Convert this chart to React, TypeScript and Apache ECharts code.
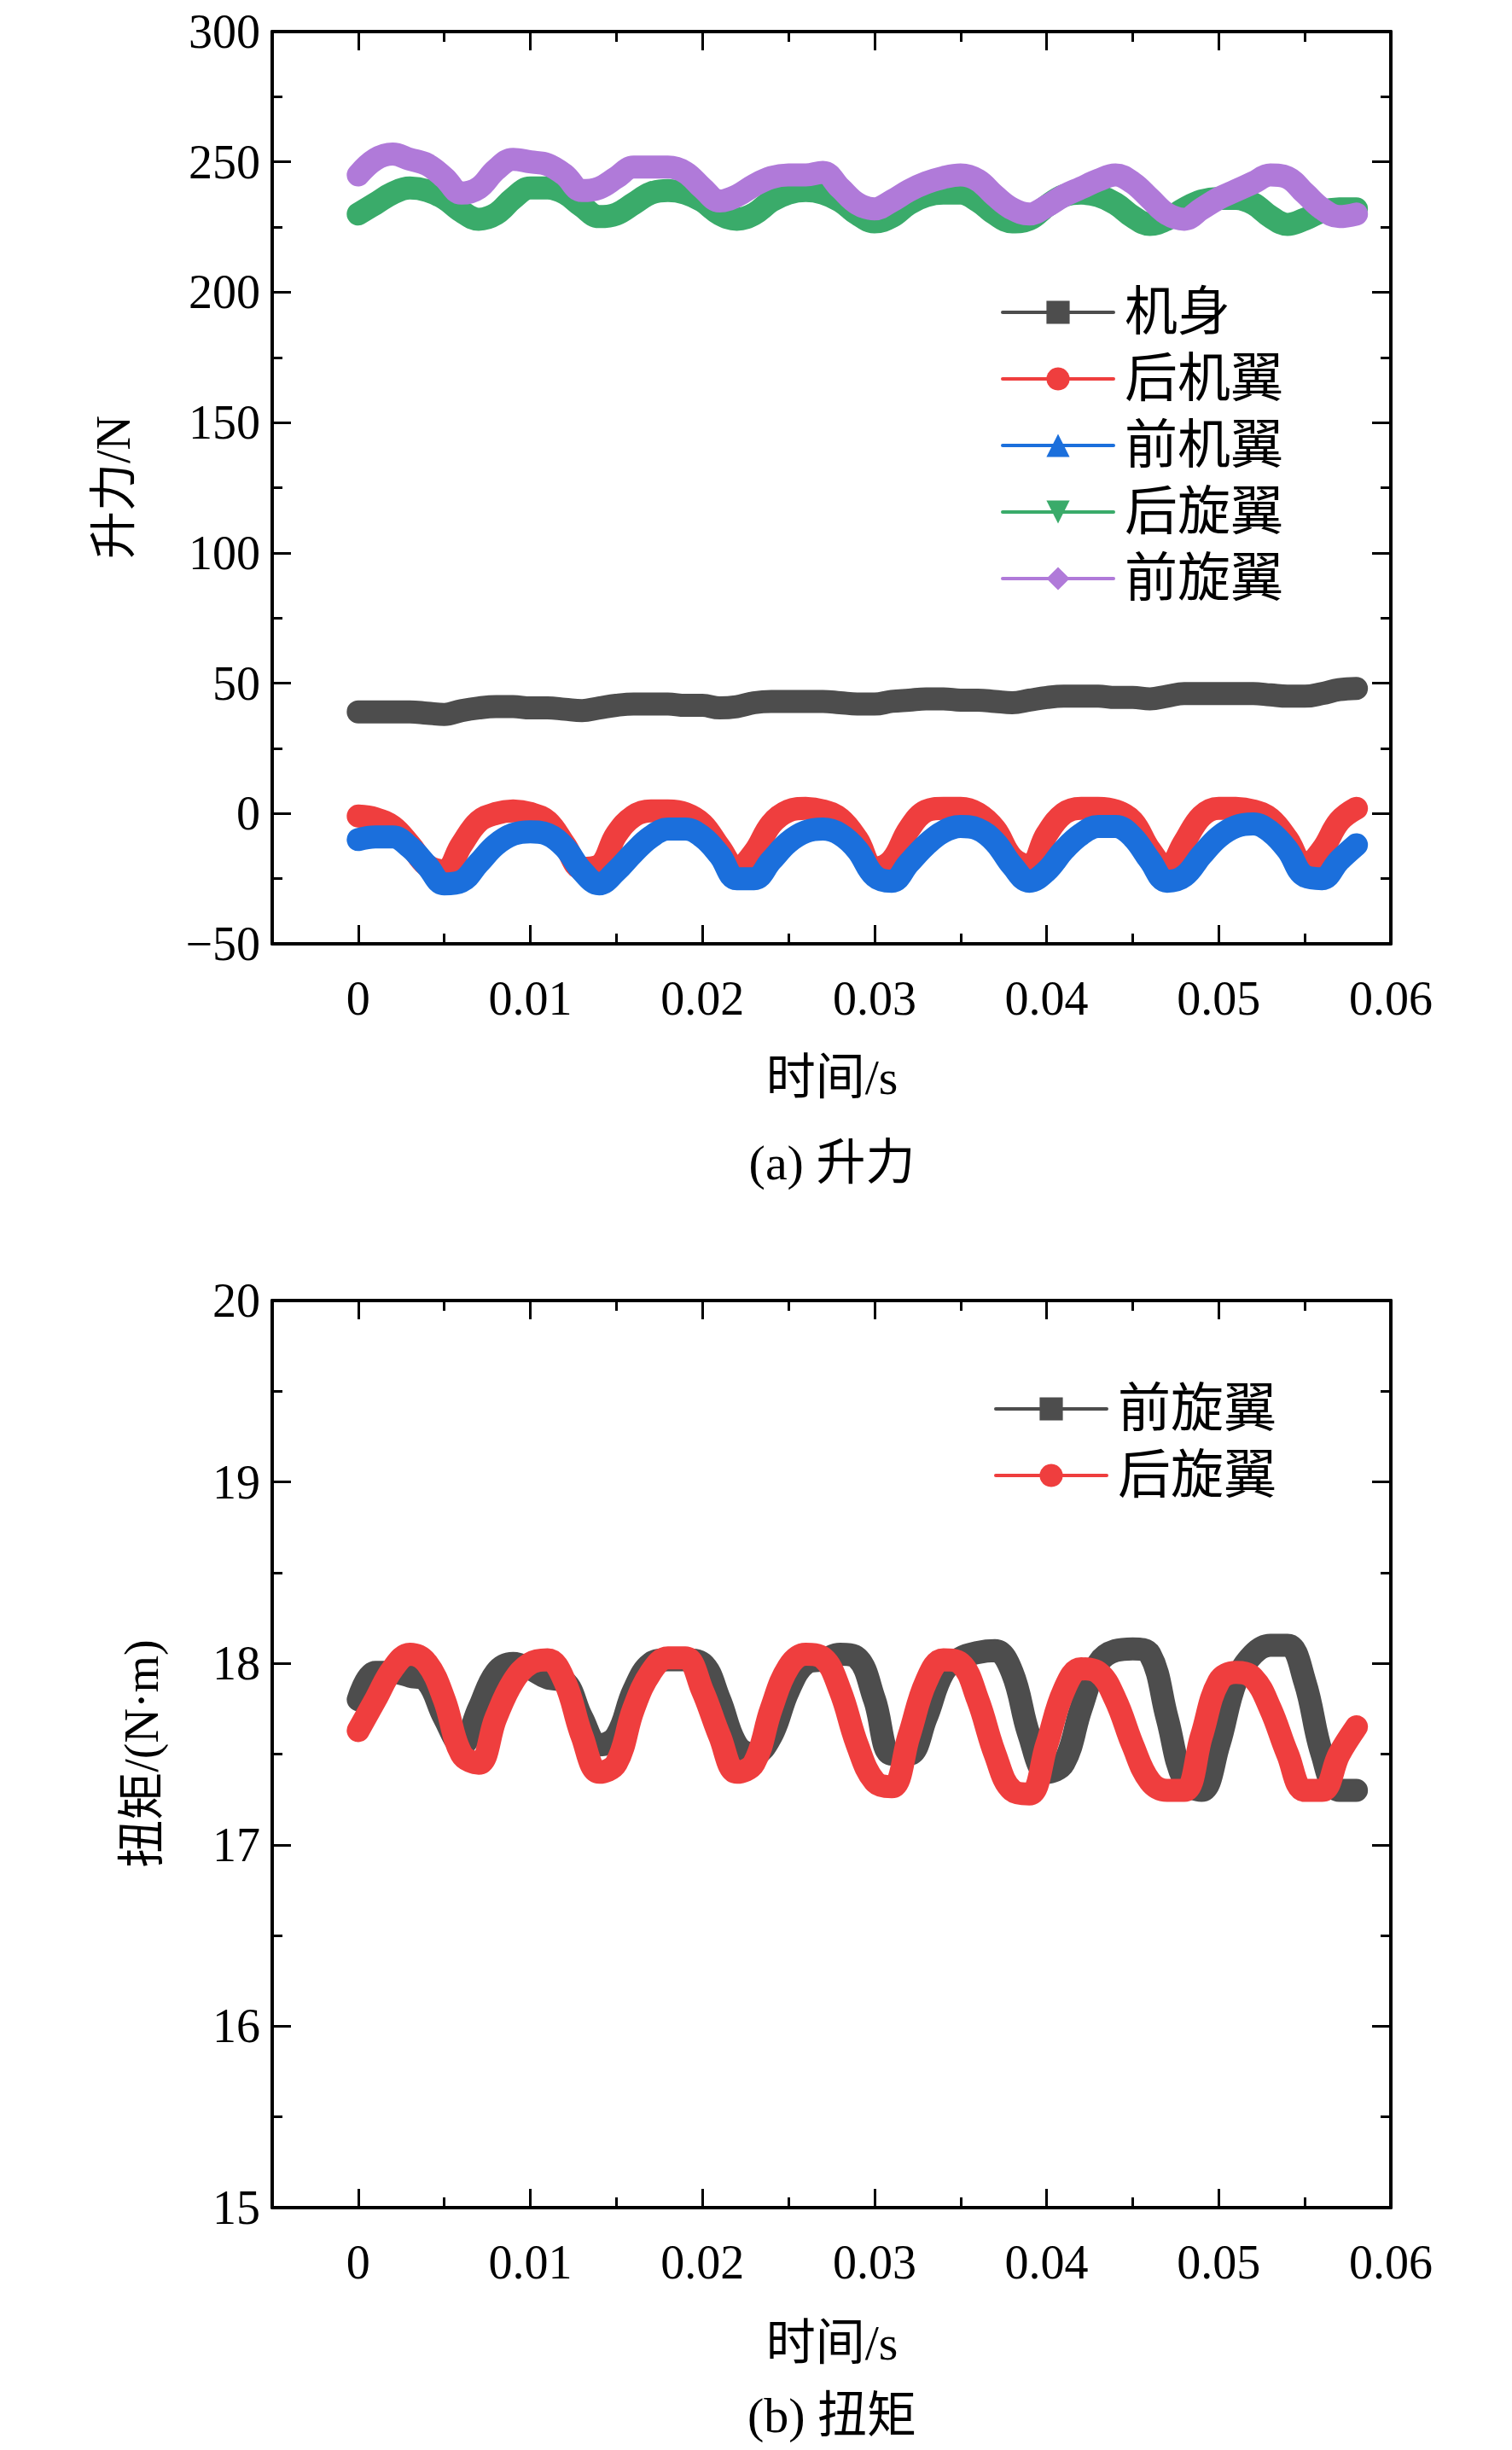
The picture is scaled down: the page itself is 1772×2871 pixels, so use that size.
import { useEffect, useRef } from "react";
import * as echarts from "echarts";

const X = Array.from({ length: 59 }, (_, i) => +(i * 0.001).toFixed(3));

const bodyLift = [39,39,39,39,38.5,38,39.5,40.5,41,41,40.5,40.5,40,39.5,40.5,41.5,42,42,42,41.5,41.5,40.5,41,42.5,43,43,43,43,42.5,42,42,43,43.5,44,44,43.5,43.5,43,42.5,43.5,44.5,45,45,45,44.5,44.5,44,45,46,46,46,46,46,45.5,45,45,46,47.5,48];
const rearWingLift = [-1,-2,-5,-12,-20,-22,-12,-3,0,1,0,-3,-12,-21,-20,-8,-1,1,1,0,-4,-13,-21,-15,-4,1,2,1,-2,-10,-21,-18,-6,1,2,2,0,-6,-17,-20,-8,0,2,2,1,-3,-14,-21,-11,-1,2,2,1,-2,-10,-20,-14,-3,2];
const frontWingLift = [-10,-9,-9,-13,-20,-27,-26,-19,-12,-8,-7,-8,-13,-22,-27,-22,-15,-9,-6,-6,-9,-16,-25,-25,-18,-11,-7,-6,-8,-14,-24,-26,-19,-12,-7,-5,-6,-11,-20,-26,-22,-14,-8,-5,-5,-9,-18,-26,-24,-16,-9,-5,-4,-7,-14,-24,-25,-18,-12];
const rearRotorLift = [230,234,238,240,239,236,231,228,230,236,240,240,238,233,229,230,234,238,239,238,235,230,228,230,235,238,239,238,235,230,227,229,234,237,238,238,235,230,227,228,233,237,238,237,234,229,226,228,232,235,236,236,234,229,226,228,231,232,232];
const frontRotorLift = [245,251,253,251,249,244,238,240,247,251,250,249,245,239,240,244,248,248,248,246,240,235,237,241,244,245,245,246,240,234,232,235,239,242,244,245,243,237,232,230,233,237,240,243,245,242,236,230,228,232,236,239,242,245,244,238,232,229,230];

const frontRotorTorque = [17.8,17.95,17.95,17.93,17.9,17.7,17.55,17.75,17.95,18.0,17.97,17.92,17.9,17.7,17.55,17.6,17.85,18.0,18.02,18.02,18.0,17.8,17.55,17.5,17.6,17.85,18.0,18.02,18.05,18.03,17.8,17.5,17.5,17.7,17.95,18.03,18.06,18.07,17.95,17.6,17.4,17.45,17.75,18.0,18.07,18.08,18.05,17.7,17.35,17.3,17.55,17.9,18.05,18.1,18.1,17.9,17.5,17.3,17.3];
const rearRotorTorque = [17.63,17.8,17.97,18.05,18.0,17.8,17.5,17.45,17.7,17.9,18.0,18.02,17.9,17.6,17.4,17.45,17.75,17.95,18.03,18.03,17.85,17.6,17.4,17.45,17.75,17.98,18.05,18.03,17.85,17.55,17.35,17.32,17.6,17.9,18.02,18.0,17.8,17.5,17.3,17.28,17.55,17.85,17.97,17.95,17.8,17.55,17.35,17.3,17.3,17.6,17.9,17.95,17.92,17.75,17.5,17.3,17.3,17.5,17.65];

const xMajor = [0, 0.01, 0.02, 0.03, 0.04, 0.05, 0.06];
const xMinor = [-0.005, 0.005, 0.015, 0.025, 0.035, 0.045, 0.055];

const FONT = "'Liberation Serif', 'Noto Sans CJK SC', serif";
const C = { black: "#4d4d4d", red: "#ef3e3e", blue: "#1b6fdc", green: "#3aab6a", purple: "#b07ad9" };

const W = 1772;
const H = 2871;
const L = 319;
const R = 1630;
const grids = [
  { top: 37, height: 1069 },
  { top: 1524, height: 1063 },
];

function xAxes(gi: number) {
  const base = { type: "value" as const, gridIndex: gi, min: -0.005, max: 0.06, splitLine: { show: false } };
  const lineStyle = { color: "#000", width: 4 };
  const tick = (len: number, vals: number[]) => ({ inside: true, length: len, customValues: vals, lineStyle: { width: 3, color: "#000" } });
  return [
    {
      ...base, position: "bottom" as const,
      axisLine: { onZero: false, lineStyle },
      axisTick: tick(22, xMajor),
      axisLabel: { customValues: xMajor, fontSize: 56, fontFamily: FONT, color: "#000", margin: 36,
        formatter: (v: number) => String(+v.toFixed(2)) },
    },
    { ...base, position: "bottom" as const, axisLine: { show: false, onZero: false }, axisTick: tick(12, xMinor), axisLabel: { show: false } },
    { ...base, position: "top" as const, axisLine: { onZero: false, lineStyle }, axisTick: tick(22, xMajor), axisLabel: { show: false } },
    { ...base, position: "top" as const, axisLine: { show: false, onZero: false }, axisTick: tick(12, xMinor), axisLabel: { show: false } },
  ];
}

function yAxes(gi: number, min: number, max: number, interval: number) {
  const common = {
    type: "value" as const, gridIndex: gi, min, max, interval,
    splitLine: { show: false },
    axisLine: { show: true, onZero: false, lineStyle: { color: "#000", width: 4 } },
    axisTick: { inside: true, length: 22, lineStyle: { width: 3, color: "#000" } },
    minorTick: { show: true, splitNumber: 2, length: 12, lineStyle: { width: 3, color: "#000" } },
  };
  return [
    {
      ...common, position: "left" as const,
      axisLabel: { fontSize: 56, fontFamily: FONT, color: "#000", margin: 14,
        formatter: (v: number) => String(v).replace("-", "\u2212") },
    },
    { ...common, position: "right" as const, axisLabel: { show: false } },
  ];
}

function series(name: string, data: number[], color: string, symbol: string, xi: number, yi: number) {
  return {
    type: "line" as const, name, xAxisIndex: xi, yAxisIndex: yi,
    data: X.map((x, i) => [x, data[i]]),
    smooth: 0.4, symbol, symbolSize: 30, showSymbol: false,
    lineStyle: { color, width: 27, cap: "round" as const, join: "round" as const },
    itemStyle: { color },
  };
}

const legendCommon = {
  orient: "vertical" as const, itemWidth: 130, itemHeight: 34,
  textStyle: { fontSize: 62, fontFamily: FONT, color: "#000", padding: [0, 0, 0, 8] },
  lineStyle: { width: 4 },
};

export default function App() {
  const ref = useRef<HTMLDivElement>(null);
  useEffect(() => {
    document.body.style.margin = "0";
    const chart = echarts.init(ref.current!, undefined, { renderer: "svg" });
    const txt = (text: string, x: number, y: number, size: number, rot = 0) => ({
      type: "text", x, y, rotation: rot,
      style: { text, font: `${size}px ${FONT}`, fill: "#000", align: "center", verticalAlign: "middle" },
    });
    chart.setOption({
      animation: false,
      backgroundColor: "#fff",
      grid: grids.map((g) => ({ left: L, width: R - L, top: g.top, height: g.height })),
      xAxis: [...xAxes(0), ...xAxes(1)],
      yAxis: [...yAxes(0, -50, 300, 50), ...yAxes(1, 15, 20, 1)],
      legend: [
        { ...legendCommon, left: 1168, top: 330, itemGap: 16, data: ["机身", "后机翼", "前机翼", "后旋翼", "前旋翼"] },
        { ...legendCommon, left: 1160, top: 1615, itemGap: 16, data: ["前旋翼 ", "后旋翼 "] },
      ],
      series: [
        { ...series("后旋翼", rearRotorLift, C.green, "triangle", 0, 0), symbol: "path://M0,0L10,0L5,10Z" },
        series("前旋翼", frontRotorLift, C.purple, "diamond", 0, 0),
        series("机身", bodyLift, C.black, "rect", 0, 0),
        series("后机翼", rearWingLift, C.red, "circle", 0, 0),
        series("前机翼", frontWingLift, C.blue, "triangle", 0, 0),
        series("前旋翼 ", frontRotorTorque, C.black, "rect", 4, 2),
        series("后旋翼 ", rearRotorTorque, C.red, "circle", 4, 2),
      ],
      graphic: [
        txt("升力/N", 133, 571, 56, Math.PI / 2),
        txt("时间/s", 975, 1262, 58),
        txt("(a) 升力", 975, 1362, 58),
        txt("扭矩/(N·m)", 166, 2055, 56, Math.PI / 2),
        txt("时间/s", 975, 2745, 58),
        txt("(b) 扭矩", 975, 2830, 58),
      ],
    });
    return () => chart.dispose();
  }, []);
  return <div ref={ref} style={{ width: W, height: H }} />;
}
